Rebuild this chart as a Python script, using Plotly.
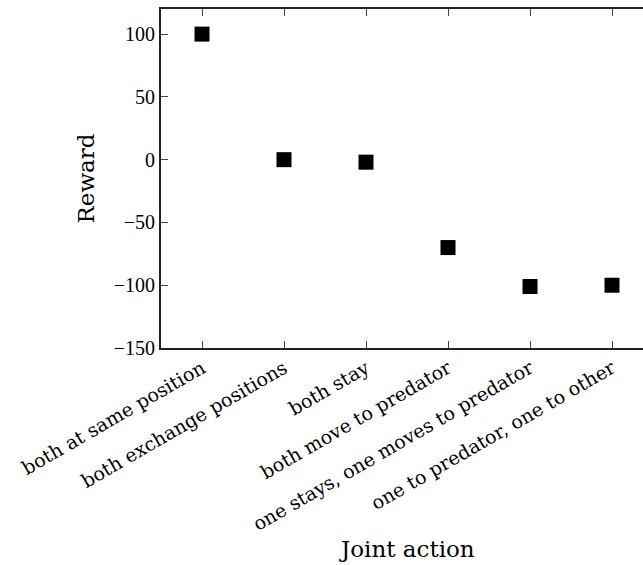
import plotly.graph_objects as go

actions = [
    "both at same position",
    "both exchange positions",
    "both stay",
    "both move to predator",
    "one stays, one moves to predator",
    "one to predator, one to other",
]
rewards = [100, 0, -2, -70, -101, -100]
y_ticks = [-150, -100, -50, 0, 50, 100]

W, H = 643, 565
L, T, B = 161, 9, 217
plot_w = W - L
plot_h = H - T - B

fig = go.Figure(
    go.Scatter(
        x=actions,
        y=rewards,
        mode="markers",
        marker=dict(symbol="square", size=15, color="black", line=dict(width=0)),
        showlegend=False,
        hoverinfo="skip",
    )
)

axis_line = dict(showline=True, linecolor="#222", linewidth=2, showgrid=False, zeroline=False,
                 ticks="inside", ticklen=7, tickwidth=1, tickcolor="#444")

fig.update_layout(
    width=W, height=H,
    margin=dict(l=L, r=0, t=T, b=B, pad=0),
    plot_bgcolor="white", paper_bgcolor="white",
    xaxis=dict(
        **axis_line, mirror="ticks", type="category",
        range=[-0.5, -0.5 + plot_w / 82.0],
        tickangle=-30,
        tickfont=dict(family="DejaVu Serif", size=19, color="black"),
    ),
    yaxis=dict(
        **axis_line, mirror=False,
        range=[-150, 120], tickvals=y_ticks,
        tickfont=dict(family="Liberation Serif", size=20, color="black"),
    ),
    annotations=[
        dict(text="Reward", xref="paper", yref="paper", x=(85 - L) / plot_w, y=0.5,
             textangle=-90, showarrow=False, xanchor="center", yanchor="middle",
             font=dict(family="DejaVu Serif", size=23, color="black")),
        dict(text="Joint action", xref="paper", yref="paper", x=(407 - L) / plot_w,
             y=(plot_h + T - 549) / plot_h,
             showarrow=False, xanchor="center", yanchor="middle",
             font=dict(family="DejaVu Serif", size=23, color="black")),
    ],
)

fig.write_html("out.html")
